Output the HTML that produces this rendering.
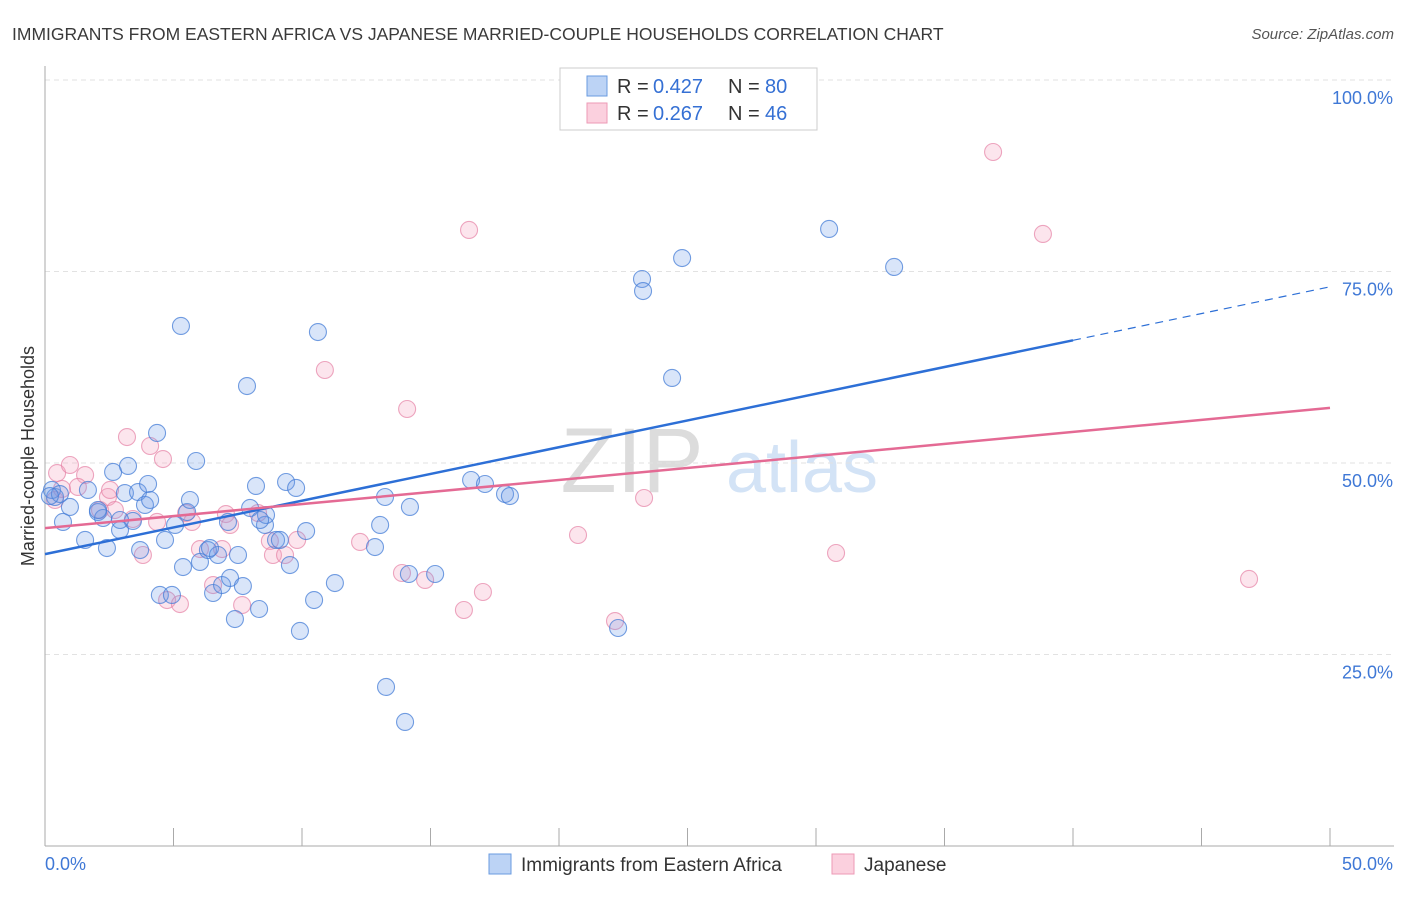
<!DOCTYPE html>
<html><head><meta charset="utf-8">
<style>
body{margin:0;background:#fff;font-family:"Liberation Sans",sans-serif;}
svg text{font-family:"Liberation Sans",sans-serif;}
</style></head>
<body>
<svg id="chart" width="1406" height="892">
<text x="12" y="40" font-size="17.5" fill="#3a3a3a">IMMIGRANTS FROM EASTERN AFRICA VS JAPANESE MARRIED-COUPLE HOUSEHOLDS CORRELATION CHART</text>
<text x="1394" y="39" font-size="15" fill="#555" font-style="italic" text-anchor="end">Source: ZipAtlas.com</text>
<text transform="translate(34,456) rotate(-90)" font-size="18" fill="#333" text-anchor="middle">Married-couple Households</text>
<g>
<text x="632" y="492" font-size="92" font-family="Liberation Serif" fill="#dcdcdc" text-anchor="middle">ZIP</text>
<text x="802" y="492" font-size="72" fill="#d3e3f6" text-anchor="middle">atlas</text>
</g>
<g id="grid"></g>
<g id="axes"></g>
<g id="points"></g>
<g id="lines"></g>
<g>
<rect x="560" y="68" width="257" height="62" fill="#fff" stroke="#ccc"/>
<rect x="587" y="76" width="20" height="20" fill="#bcd3f5" stroke="#6a9be0"/>
<rect x="587" y="103" width="20" height="20" fill="#fbd0de" stroke="#ec9ab6"/>
<text y="93" font-size="20" fill="#333"><tspan x="617">R = </tspan><tspan x="653" fill="#3570d4">0.427</tspan><tspan x="728">N = </tspan><tspan x="765" fill="#3570d4">80</tspan></text>
<text y="120" font-size="20" fill="#333"><tspan x="617">R = </tspan><tspan x="653" fill="#3570d4">0.267</tspan><tspan x="728">N = </tspan><tspan x="765" fill="#3570d4">46</tspan></text>
</g>
<g>
<rect x="489" y="854" width="22" height="20" fill="#bcd3f5" stroke="#6a9be0"/>
<text x="521" y="871" font-size="19" fill="#333">Immigrants from Eastern Africa</text>
<rect x="832" y="854" width="22" height="20" fill="#fbd0de" stroke="#ec9ab6"/>
<text x="864" y="871" font-size="19" fill="#333">Japanese</text>
</g>
</svg>
<script>
const xTickLabels=["0.0%","50.0%"];
const yTicks=[25,50,75,100];
const yTickLabels=["25.0%","50.0%","75.0%","100.0%"];
const bluePx=[[55,497],[52,490],[63,522],[70,507],[88,490],[85,540],[98,512],[103,518],[107,548],[113,472],[120,530],[125,493],[128,466],[133,521],[138,492],[140,550],[148,484],[145,505],[157,433],[160,595],[172,595],[175,525],[181,326],[183,567],[187,512],[190,500],[196,461],[200,562],[208,550],[213,593],[218,555],[222,585],[228,522],[230,578],[235,619],[238,555],[243,586],[247,386],[250,508],[256,486],[259,609],[265,525],[266,515],[276,540],[286,482],[290,565],[296,488],[300,631],[306,531],[314,600],[318,332],[335,583],[375,547],[380,525],[385,497],[386,687],[405,722],[409,574],[410,507],[435,574],[471,480],[485,484],[505,494],[510,496],[618,628],[642,279],[643,291],[672,378],[682,258],[829,229],[894,267],[60,494],[50,496],[98,510],[120,520],[150,500],[165,540],[210,548],[260,520],[280,540]];
const pinkPx=[[57,473],[70,465],[85,475],[78,487],[100,510],[108,497],[115,510],[127,437],[133,519],[143,555],[150,446],[157,522],[163,459],[167,600],[180,604],[186,513],[192,522],[200,549],[213,585],[222,549],[226,514],[242,605],[258,513],[270,541],[273,555],[285,555],[297,540],[325,370],[360,542],[402,573],[407,409],[425,580],[464,610],[469,230],[483,592],[578,535],[615,621],[644,498],[836,553],[993,152],[1043,234],[1249,579],[55,500],[62,489],[110,490],[230,525]];
const blueX=bluePx.map(p=>+((p[0]-45)/25.7).toFixed(2));
const blueY=bluePx.map(p=>+((846-p[1])/7.66).toFixed(2));
const pinkX=pinkPx.map(p=>+((p[0]-45)/25.7).toFixed(2));
const pinkY=pinkPx.map(p=>+((846-p[1])/7.66).toFixed(2));
const blueTrend=[38.1,73.0];
const pinkTrend=[41.5,57.2];
const blueSolidEnd=40;

const NS="http://www.w3.org/2000/svg";
const X=v=>45+v*25.7, Y=v=>846-v*7.66;
function mk(t,a,parent){const e=document.createElementNS(NS,t);for(const k in a)e.setAttribute(k,a[k]);document.getElementById(parent).appendChild(e);return e;}
yTicks.forEach((t,i)=>{
 const g=mk('line',{x1:45,x2:1394,y1:Y(t),y2:Y(t),stroke:'#e2e2e2','stroke-dasharray':'5,4'},'grid');
 
 
 const l=mk('text',{x:1393,y:Y(t)+24,'font-size':18,fill:'#3f78d6','text-anchor':'end'},'axes');
 l.textContent=yTickLabels[i];
 
 
});
const ax=mk('line',{x1:45,x2:45,y1:66,y2:846,stroke:'#aaa'},'axes');


const bx=mk('line',{x1:45,x2:1394,y1:846,y2:846,stroke:'#aaa'},'axes');


for(let i=0;i<=10;i++){const t=mk('line',{x1:X(i*5),x2:X(i*5),y1:828,y2:846,stroke:'#aaa'},'axes');
 
 }
[[0,45,'start'],[1,1393,'end']].forEach(([i,x,a])=>{const t=mk('text',{x:x,y:870,'font-size':18,fill:'#3f78d6','text-anchor':a},'axes');t.textContent=xTickLabels[i];
 
 });
pinkX.forEach((x,i)=>{const c=mk('circle',{cx:X(x),cy:Y(pinkY[i]),r:8.5,fill:'rgba(243,160,190,0.28)',stroke:'rgba(230,130,165,0.7)','stroke-width':1.1},'points');
 
 });
blueX.forEach((x,i)=>{const c=mk('circle',{cx:X(x),cy:Y(blueY[i]),r:8.5,fill:'rgba(110,155,230,0.26)',stroke:'rgba(70,125,215,0.75)','stroke-width':1.1},'points');
 
 });
const by=v=>blueTrend[0]+(blueTrend[1]-blueTrend[0])*v/50;
const l1=mk('line',{x1:X(0),y1:Y(by(0)),x2:X(blueSolidEnd),y2:Y(by(blueSolidEnd)),stroke:'#2d6fd6','stroke-width':2.5},'lines');


const l2=mk('line',{x1:X(blueSolidEnd),y1:Y(by(blueSolidEnd)),x2:X(50),y2:Y(by(50)),stroke:'#2d6fd6','stroke-width':1.2,'stroke-dasharray':'8,6'},'lines');


const l3=mk('line',{x1:X(0),y1:Y(pinkTrend[0]),x2:X(50),y2:Y(pinkTrend[1]),stroke:'#e46a94','stroke-width':2.5},'lines');


</script>
</body></html>
